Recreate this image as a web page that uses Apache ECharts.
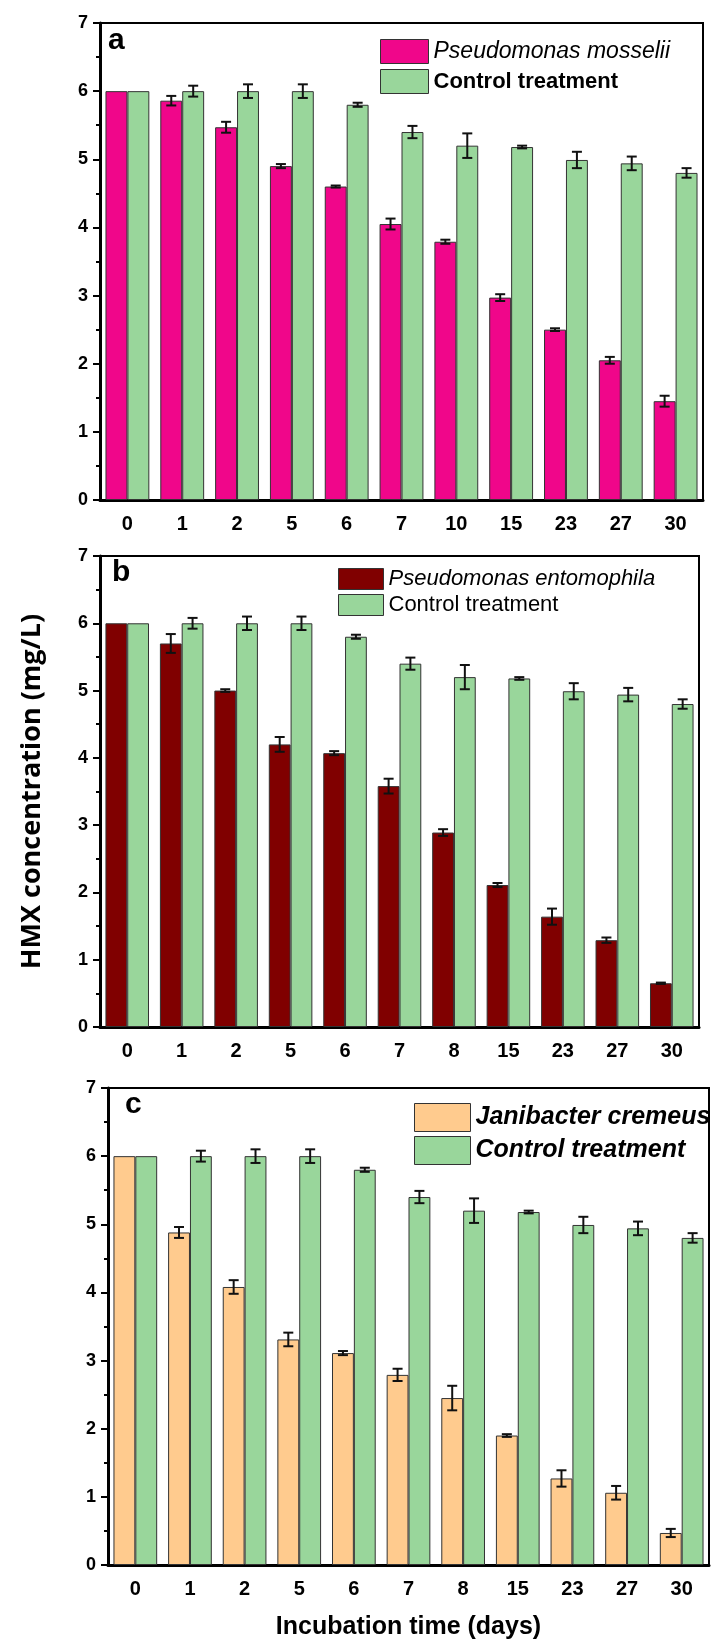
<!DOCTYPE html>
<html>
<head>
<meta charset="utf-8">
<script src="https://cdn.jsdelivr.net/npm/echarts@6/dist/echarts.min.js"></script>
<style>
  html, body { margin: 0; padding: 0; background: #fff; }
  #chart { width: 714px; height: 1642px; }
</style>
</head>
<body>
<div id="chart"></div>
<script>
// Incubation days sampled in each experiment
const daysA = ['0', '1', '2', '5', '6', '7', '10', '15', '23', '27', '30'];
const daysBC = ['0', '1', '2', '5', '6', '7', '8', '15', '23', '27', '30'];

// HMX concentration (mg/L) and standard deviation
const mosselii = [6, 5.86, 5.47, 4.9, 4.6, 4.05, 3.79, 2.97, 2.5, 2.05, 1.45];
const mosseliiErr = [0, 0.07, 0.08, 0.03, 0.015, 0.08, 0.03, 0.05, 0.02, 0.05, 0.08];

const entomophila = [6, 5.7, 5.0, 4.2, 4.07, 3.58, 2.89, 2.11, 1.64, 1.29, 0.65];
const entomophilaErr = [0, 0.14, 0.02, 0.11, 0.03, 0.11, 0.05, 0.03, 0.12, 0.04, 0.01];

const cremeus = [6, 4.88, 4.08, 3.31, 3.11, 2.79, 2.45, 1.9, 1.27, 1.06, 0.47];
const cremeusErr = [0, 0.08, 0.1, 0.1, 0.03, 0.09, 0.18, 0.02, 0.12, 0.1, 0.06];

const control = [6, 6.0, 6.0, 6.0, 5.8, 5.4, 5.2, 5.18, 4.99, 4.94, 4.8];
const controlErr = [0, 0.08, 0.1, 0.1, 0.03, 0.09, 0.18, 0.02, 0.12, 0.1, 0.07];

const yTicks = [0, 1, 2, 3, 4, 5, 6, 7];

const FONT = '"Liberation Sans", Arial, sans-serif';
const C_PINK = '#F0068A';
const C_DARKRED = '#800000';
const C_ORANGE = '#FFCB8E';
const C_GREEN = '#99D69B';
const EDGE = '#333333';

const panels = [
  { days: daysA, name: 'Pseudomonas mosselii', vals: mosselii, err: mosseliiErr, color: C_PINK,
    grid: { left: 100, top: 23, width: 603, height: 477 } },
  { days: daysBC, name: 'Pseudomonas entomophila', vals: entomophila, err: entomophilaErr, color: C_DARKRED,
    grid: { left: 100, top: 556, width: 599, height: 471 } },
  { days: daysBC, name: 'Janibacter cremeus', vals: cremeus, err: cremeusErr, color: C_ORANGE,
    grid: { left: 108, top: 1088, width: 601, height: 477 } }
];

// error bar drawn at the centre of the left (-1) or right (+1) bar of a group
function errorBar(side) {
  return function (params, api) {
    const e = api.value(2);
    if (!e) return null;
    const x = api.value(0);
    const y = api.value(1);
    const band = api.size([1, 0])[0];
    const off = side * band * 0.2;
    const hi = api.coord([x, y + e]);
    const lo = api.coord([x, y - e]);
    const cx = hi[0] + off;
    const cap = 5;
    const st = { stroke: '#111', lineWidth: 2 };
    return {
      type: 'group',
      children: [
        { type: 'line', shape: { x1: cx, y1: hi[1], x2: cx, y2: lo[1] }, style: st },
        { type: 'line', shape: { x1: cx - cap, y1: hi[1], x2: cx + cap, y2: hi[1] }, style: st },
        { type: 'line', shape: { x1: cx - cap, y1: lo[1], x2: cx + cap, y2: lo[1] }, style: st }
      ]
    };
  };
}

const grid = [], xAxis = [], yAxis = [], series = [];

panels.forEach((p, i) => {
  grid.push(Object.assign({ show: true, borderColor: '#000', borderWidth: 2, backgroundColor: 'transparent' }, p.grid));

  // labelled axis with ticks under each group
  xAxis.push({
    type: 'category', gridIndex: i, data: p.days, position: 'bottom',
    axisLine: { lineStyle: { color: '#000', width: 3 } },
    axisTick: { alignWithLabel: true, length: 8, lineStyle: { color: '#000', width: 2 } },
    axisLabel: { margin: 14, fontFamily: FONT, fontWeight: 'bold', fontSize: 20, color: '#000' },
    name: i === 2 ? 'Incubation time (days)' : '',
    nameLocation: 'middle', nameGap: 50,
    nameTextStyle: { fontFamily: FONT, fontWeight: 'bold', fontSize: 25, color: '#000' }
  });
  // short ticks on the group boundaries
  xAxis.push({
    type: 'category', gridIndex: i, data: p.days, position: 'bottom',
    axisLine: { show: false },
    axisTick: { alignWithLabel: false, length: 4, lineStyle: { color: '#000', width: 2 } },
    axisLabel: { show: false }
  });

  yAxis.push({
    type: 'value', gridIndex: i, min: yTicks[0], max: yTicks[yTicks.length - 1], interval: 1,
    axisLine: { show: true, lineStyle: { color: '#000', width: 3 } },
    axisTick: { show: true, length: 7, lineStyle: { color: '#000', width: 2 } },
    minorTick: { show: true, splitNumber: 2, length: 4, lineStyle: { color: '#000', width: 2 } },
    splitLine: { show: false },
    axisLabel: { margin: 12, fontFamily: FONT, fontWeight: 'bold', fontSize: 18, color: '#000' },
    name: i === 1 ? 'HMX concentration (mg/L)' : '',
    nameLocation: 'middle', nameGap: 54,
    nameTextStyle: { fontFamily: '"Open Sans", "DejaVu Sans", sans-serif', fontWeight: 'bold', fontSize: 27, color: '#000' }
  });

  const xi = i * 2;
  series.push({
    name: p.name, type: 'bar', xAxisIndex: xi, yAxisIndex: i,
    barWidth: '40%', barGap: '0%', barCategoryGap: '20%',
    itemStyle: { color: p.color, borderColor: EDGE, borderWidth: 1 },
    data: p.vals
  });
  series.push({
    name: 'Control treatment', type: 'bar', xAxisIndex: xi, yAxisIndex: i,
    barWidth: '40%', barGap: '0%', barCategoryGap: '20%',
    itemStyle: { color: C_GREEN, borderColor: EDGE, borderWidth: 1 },
    data: control
  });
  series.push({
    type: 'custom', xAxisIndex: xi, yAxisIndex: i, z: 5,
    renderItem: errorBar(-1), encode: { x: 0, y: 1 },
    data: p.vals.map((v, k) => [k, v, p.err[k]])
  });
  series.push({
    type: 'custom', xAxisIndex: xi, yAxisIndex: i, z: 5,
    renderItem: errorBar(1), encode: { x: 0, y: 1 },
    data: control.map((v, k) => [k, v, controlErr[k]])
  });
});

const legendBase = {
  orient: 'vertical', padding: 0, selectedMode: false, icon: 'rect',
  itemStyle: { borderColor: EDGE, borderWidth: 1 }
};

const legend = [
  Object.assign({}, legendBase, {
    left: 380, top: 39, itemWidth: 48, itemHeight: 24, itemGap: 5,
    data: ['Pseudomonas mosselii', 'Control treatment'],
    formatter: n => n === 'Control treatment' ? '{b|' + n + '}' : '{i|' + n + '}',
    textStyle: {
      rich: {
        i: { fontFamily: FONT, fontStyle: 'italic', fontWeight: 'normal', fontSize: 23, color: '#000', lineHeight: 24 },
        b: { fontFamily: FONT, fontWeight: 'bold', fontSize: 22, color: '#000', lineHeight: 24 }
      }
    }
  }),
  Object.assign({}, legendBase, {
    left: 338, top: 568, itemWidth: 45, itemHeight: 21, itemGap: 4,
    data: ['Pseudomonas entomophila', 'Control treatment'],
    formatter: n => n === 'Control treatment' ? '{n|' + n + '}' : '{i|' + n + '}',
    textStyle: {
      rich: {
        i: { fontFamily: FONT, fontStyle: 'italic', fontSize: 22, color: '#000', lineHeight: 21 },
        n: { fontFamily: FONT, fontSize: 22, color: '#000', lineHeight: 21 }
      }
    }
  }),
  Object.assign({}, legendBase, {
    left: 414, top: 1103, itemWidth: 56, itemHeight: 28, itemGap: 4,
    data: ['Janibacter cremeus', 'Control treatment'],
    textStyle: { fontFamily: FONT, fontStyle: 'italic', fontWeight: 'bold', fontSize: 25, color: '#000', lineHeight: 28 }
  })
];

// panel letters
const letterStyle = { fontFamily: FONT, fontWeight: 'bold', fontSize: 30, fill: '#000', textAlign: 'left', textVerticalAlign: 'top' };
const graphic = [
  { type: 'text', left: 108, top: 26, style: Object.assign({ text: 'a' }, letterStyle) },
  { type: 'text', left: 112, top: 558, style: Object.assign({ text: 'b' }, letterStyle) },
  { type: 'text', left: 125, top: 1090, style: Object.assign({ text: 'c' }, letterStyle) }
];

const chart = echarts.init(document.getElementById('chart'), null, { renderer: 'canvas' });
chart.setOption({
  animation: false,
  backgroundColor: '#fff',
  grid, xAxis, yAxis, series, legend, graphic
});
</script>
</body>
</html>
